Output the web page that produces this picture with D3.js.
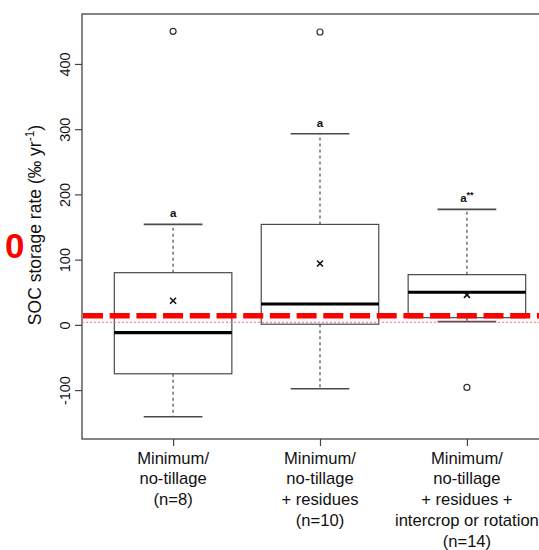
<!DOCTYPE html>
<html><head><meta charset="utf-8">
<script src="https://cdn.jsdelivr.net/npm/d3@7/dist/d3.min.js"></script>
<style>body{margin:0;background:#fff}svg{display:block}</style>
</head><body>
<script>
const categories = [
  ["Minimum/", "no-tillage", "(n=8)"],
  ["Minimum/", "no-tillage", "+ residues", "(n=10)"],
  ["Minimum/", "no-tillage", "+ residues +", "intercrop or rotation", "(n=14)"]
];
const lowerWhisker = [-141, -98, 5];
const q1 = [-75, 1, 11];
const median = [-12, 32, 50];
const q3 = [80, 154, 77];
const upperWhisker = [154, 293, 177];
const means = [37, 94, 46];
const outliers = [[450], [449], [-96]];
const letters = ["a", "a", "a"];
const letterSup = ["", "", "**"];
const yTicks = [-100, 0, 100, 200, 300, 400];
const refLine = 14;
const zeroLine = 4;

const W = 539, H = 550;
const svg = d3.select("body").append("svg").attr("width", W).attr("height", H);
const x = d3.scaleLinear().domain([0.38, 3.62]).range([82, 558]);
const y = d3.scaleLinear().domain([-175, 476.6]).range([439, 14]);
const font = "'Liberation Sans', Arial, Helvetica, sans-serif";
const boxCol = "#4a4a4a";

// frame
svg.append("rect").attr("x", x(0.38)).attr("y", y(476.6))
  .attr("width", x(3.62) - x(0.38)).attr("height", y(-175) - y(476.6))
  .attr("fill", "none").attr("stroke", "#444").attr("stroke-width", 1.3);

// y axis
const yAxis = d3.axisLeft(y).tickValues(yTicks).tickSize(7).tickFormat(d => String(d));
const ga = svg.append("g").attr("transform", `translate(${x(0.38)},0)`).call(yAxis);
ga.select(".domain").remove();
ga.selectAll(".tick line").attr("stroke", "#444").attr("stroke-width", 1.2);
ga.selectAll(".tick text").attr("font-family", font).attr("font-size", 14.5).attr("fill", "#111")
  .attr("x", 0).attr("y", 0).attr("dy", 0)
  .attr("text-anchor", "middle")
  .attr("transform", "translate(-12,0) rotate(-90)");

// x axis ticks
const xAxis = d3.axisBottom(x).tickValues([1,2,3]).tickSize(7).tickFormat("");
const gx = svg.append("g").attr("transform", `translate(0,${y(-175)})`).call(xAxis);
gx.select(".domain").remove();
gx.selectAll(".tick line").attr("stroke", "#444").attr("stroke-width", 1.2);

// x labels
categories.forEach((lines, i) => {
  const t = svg.append("text").attr("font-family", font).attr("font-size", 16.6)
    .attr("fill", "#111").attr("text-anchor", "middle");
  lines.forEach((ln, j) => {
    t.append("tspan").attr("x", x(i + 1)).attr("y", 463.5 + j * 20.9).text(ln);
  });
});

// y title
const yt = svg.append("text").attr("font-family", font).attr("font-size", 17.5).attr("fill", "#111")
  .attr("text-anchor", "middle").attr("transform", `translate(41,${225}) rotate(-90)`);
yt.append("tspan").text("SOC storage rate (\u2030 yr");
yt.append("tspan").attr("font-size", 12).attr("dy", -7).text("-1");
yt.append("tspan").attr("dy", 7).text(")");

// boxes
const bw = 0.4, cw = 0.2;
d3.range(3).forEach(i => {
  const c = i + 1;
  const g = svg.append("g");
  g.append("line").attr("x1", x(c)).attr("x2", x(c)).attr("y1", y(q3[i])).attr("y2", y(upperWhisker[i]))
    .attr("stroke", boxCol).attr("stroke-width", 1.2).attr("stroke-dasharray", "3,3");
  g.append("line").attr("x1", x(c)).attr("x2", x(c)).attr("y1", y(q1[i])).attr("y2", y(lowerWhisker[i]))
    .attr("stroke", boxCol).attr("stroke-width", 1.2).attr("stroke-dasharray", "3,3");
  [upperWhisker[i], lowerWhisker[i]].forEach(v => {
    g.append("line").attr("x1", x(c - cw)).attr("x2", x(c + cw)).attr("y1", y(v)).attr("y2", y(v))
      .attr("stroke", boxCol).attr("stroke-width", 1.6);
  });
  g.append("rect").attr("x", x(c - bw)).attr("y", y(q3[i]))
    .attr("width", x(c + bw) - x(c - bw)).attr("height", y(q1[i]) - y(q3[i]))
    .attr("fill", "#fff").attr("stroke", boxCol).attr("stroke-width", 1.2);
  g.append("line").attr("x1", x(c - bw)).attr("x2", x(c + bw)).attr("y1", y(median[i])).attr("y2", y(median[i]))
    .attr("stroke", "#000").attr("stroke-width", 3.2);
  const mx = x(c), my = y(means[i]), s = 3;
  g.append("path").attr("d", `M${mx-s},${my-s}L${mx+s},${my+s}M${mx-s},${my+s}L${mx+s},${my-s}`)
    .attr("stroke", "#111").attr("stroke-width", 1.6);
  outliers[i].forEach(v => {
    g.append("circle").attr("cx", x(c)).attr("cy", y(v)).attr("r", 3)
      .attr("fill", "none").attr("stroke", "#333").attr("stroke-width", 1.2);
  });
  const lt = g.append("text").attr("x", x(c)).attr("y", y(upperWhisker[i]) - 7)
    .attr("font-family", font).attr("font-size", 11.5).attr("font-weight", "bold")
    .attr("text-anchor", "middle").attr("fill", "#111");
  lt.append("tspan").text(letters[i]);
  if (letterSup[i]) lt.append("tspan").attr("font-size", 9).attr("dy", -4).text(letterSup[i]);
});

// red reference lines
svg.append("line").attr("x1", x(0.38)).attr("x2", W).attr("y1", y(zeroLine)).attr("y2", y(zeroLine))
  .attr("stroke", "#f07070").attr("stroke-width", 1.2).attr("stroke-dasharray", "2,2");
svg.append("line").attr("x1", 83).attr("x2", W).attr("y1", y(refLine)).attr("y2", y(refLine))
  .attr("stroke", "#ff0000").attr("stroke-width", 5.5).attr("stroke-dasharray", "20,6.7");

// red label fragment
svg.append("text").attr("x", 24.5).attr("y", 257.7).attr("text-anchor", "end")
  .attr("font-family", font).attr("font-weight", "bold").attr("font-size", 35)
  .attr("fill", "#ff0000").text("0");
</script>
</body></html>
